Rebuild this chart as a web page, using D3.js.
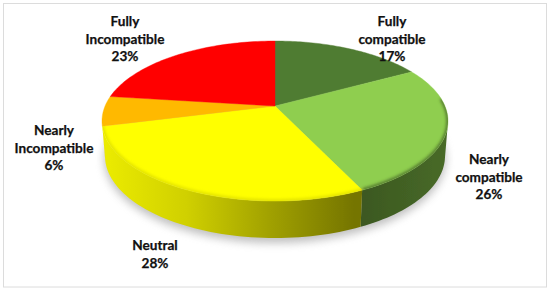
<!DOCTYPE html>
<html>
<head>
<meta charset="utf-8">
<script src="https://cdnjs.cloudflare.com/ajax/libs/d3/7.8.5/d3.min.js"></script>
<style>
  html, body { margin: 0; padding: 0; background: #fff; }
  svg { display: block; }
  text { font-family: Lato, "Open Sans", sans-serif; font-weight: 700; font-size: 13.6px; fill: #111; stroke: #111; stroke-width: 0.25px; text-anchor: middle; }
</style>
</head>
<body>
<div id="chart"></div>
<script>
var categories = [
  "Fully compatible",
  "Nearly compatible",
  "Neutral",
  "Nearly Incompatible",
  "Fully Incompatible"
];
var values = [17, 26, 28, 6, 23];
var labelLines = [
  ["Fully", "compatible"],
  ["Nearly", "compatible"],
  ["Neutral"],
  ["Nearly", "Incompatible"],
  ["Fully", "Incompatible"]
];
var topColors = ["#507c33", "#8fce50", "#ffff00", "#ffb900", "#ff0000"];
// wall colours, left to right
var wallColors = [
  ["#3f5c24", "#3f5c24"],
  ["#3b5720", "#486a28"],
  ["#ecec00", "#d0d000", "#a0a000", "#747400"],
  ["#d09600", "#d09600"],
  ["#c00000", "#c00000"]
];

var width = 550;
var height = 291;

// where the first line of each label sits
var labelX = [392, 489, 155, 54, 125];
var labelY = [26, 164, 250, 135, 26];
var lineHeight = 17.6;

// the pie is tilted, k moves the apex of the slices up from the ellipse centre
var k = -0.1875;
var topX = d3.scaleLinear().domain([-1, 1]).range([102, 448]);
var topY = d3.scaleLinear().domain([-1, 1]).range([41, 201]);
var bottomX = d3.scaleLinear().domain([-1, 1]).range([105, 445]);
var bottomY = d3.scaleLinear().domain([-1, 1]).range([74, 238]);

var project = function(angle, scaleX, scaleY) {
  var u = Math.sin(angle);
  var v = -Math.cos(angle);
  var d = 1 + k * v;
  return [
    scaleX((u * Math.sqrt(1 - k * k)) / d),
    scaleY((v + k) / d)
  ];
};

var apex = [topX(0), topY(k)];

var arcAngles = function(d) {
  return d3.range(0, 61).map(function(i) {
    return d.startAngle + ((d.endAngle - d.startAngle) * i) / 60;
  });
};

var pieData = d3.pie().sort(null).value(function(d) { return d; })(values);
var line = d3.line();

var svg = d3.select("#chart").append("svg")
  .attr("width", width)
  .attr("height", height);

var defs = svg.append("defs");

defs.append("filter").attr("id", "shadowBlur")
  .attr("x", "-10%").attr("y", "-20%").attr("width", "120%").attr("height", "140%")
  .append("feGaussianBlur").attr("stdDeviation", 4);
defs.append("filter").attr("id", "edgeBlur")
  .attr("x", "-10%").attr("y", "-20%").attr("width", "120%").attr("height", "140%")
  .append("feGaussianBlur").attr("stdDeviation", 0.5);
defs.append("filter").attr("id", "bevelBlur")
  .attr("x", "-10%").attr("y", "-20%").attr("width", "120%").attr("height", "140%")
  .append("feGaussianBlur").attr("stdDeviation", 1.5);

wallColors.forEach(function(colors, i) {
  var grad = defs.append("linearGradient")
    .attr("id", "wall" + i)
    .attr("gradientUnits", "userSpaceOnUse")
    .attr("x1", i === 2 ? 102 : 356)
    .attr("x2", i === 2 ? 356 : 448)
    .attr("y1", 0)
    .attr("y2", 0);
  colors.forEach(function(c, j) {
    grad.append("stop")
      .attr("offset", j / (colors.length - 1))
      .attr("stop-color", c);
  });
});

// picture frame
svg.append("rect")
  .attr("x", 3.5)
  .attr("y", 3.5)
  .attr("width", 543)
  .attr("height", 283.5)
  .attr("fill", "none")
  .attr("stroke", "#dcdcdc")
  .attr("stroke-width", 1);

// soft shadow under the pie
svg.append("ellipse")
  .attr("cx", bottomX(0))
  .attr("cy", bottomY(0) + 3)
  .attr("rx", 171)
  .attr("ry", 84)
  .attr("fill", "#8c8c8c")
  .attr("opacity", 0.55)
  .attr("filter", "url(#shadowBlur)");

// side walls, only the part of each slice that faces the viewer
svg.append("g")
  .attr("filter", "url(#edgeBlur)")
  .selectAll("path")
  .data(pieData)
  .join("path")
  .attr("d", function(d) {
    var front = arcAngles(d).filter(function(a) {
      return project(a, topX, topY)[1] >= topY(0);
    });
    if (front.length < 2) {
      return null;
    }
    var upper = front.map(function(a) { return project(a, topX, topY); });
    var lower = front.map(function(a) { return project(a, bottomX, bottomY); }).reverse();
    return line(upper.concat(lower)) + "Z";
  })
  .attr("fill", function(d, i) { return "url(#wall" + i + ")"; });

// top face
var topPath = function(d) {
  var rim = arcAngles(d).map(function(a) { return project(a, topX, topY); });
  return line([apex].concat(rim)) + "Z";
};

svg.append("g")
  .attr("filter", "url(#edgeBlur)")
  .selectAll("path")
  .data(pieData)
  .join("path")
  .attr("d", topPath)
  .attr("fill", function(d, i) { return topColors[i]; })
  .attr("stroke", function(d, i) { return topColors[i]; })
  .attr("stroke-width", 0.4);

// bevel shading along the front rim of the top face
defs.append("clipPath").attr("id", "topClip")
  .selectAll("path")
  .data(pieData)
  .join("path")
  .attr("d", topPath);

svg.append("g")
  .attr("clip-path", "url(#topClip)")
  .append("g")
  .attr("filter", "url(#bevelBlur)")
  .selectAll("path")
  .data(pieData)
  .join("path")
  .attr("d", function(d) {
    var front = arcAngles(d).filter(function(a) {
      return project(a, topX, topY)[1] >= topY(-0.3);
    });
    return front.length < 2 ? null : line(front.map(function(a) { return project(a, topX, topY); }));
  })
  .attr("fill", "none")
  .attr("stroke", function(d, i) { return i === 1 ? "#3f5c24" : i === 2 ? "#d8d800" : "none"; })
  .attr("stroke-width", 3.5)
  .attr("stroke-opacity", 0.75);

// labels
var labels = svg.append("g")
  .selectAll("text")
  .data(categories)
  .join("text")
  .attr("x", function(d, i) { return labelX[i]; })
  .attr("y", function(d, i) { return labelY[i]; });

labels.each(function(d, i) {
  var node = d3.select(this);
  labelLines[i].concat([values[i] + "%"]).forEach(function(t, j) {
    node.append("tspan")
      .attr("x", labelX[i])
      .attr("dy", j === 0 ? 0 : lineHeight)
      .text(t);
  });
});
</script>
</body>
</html>
